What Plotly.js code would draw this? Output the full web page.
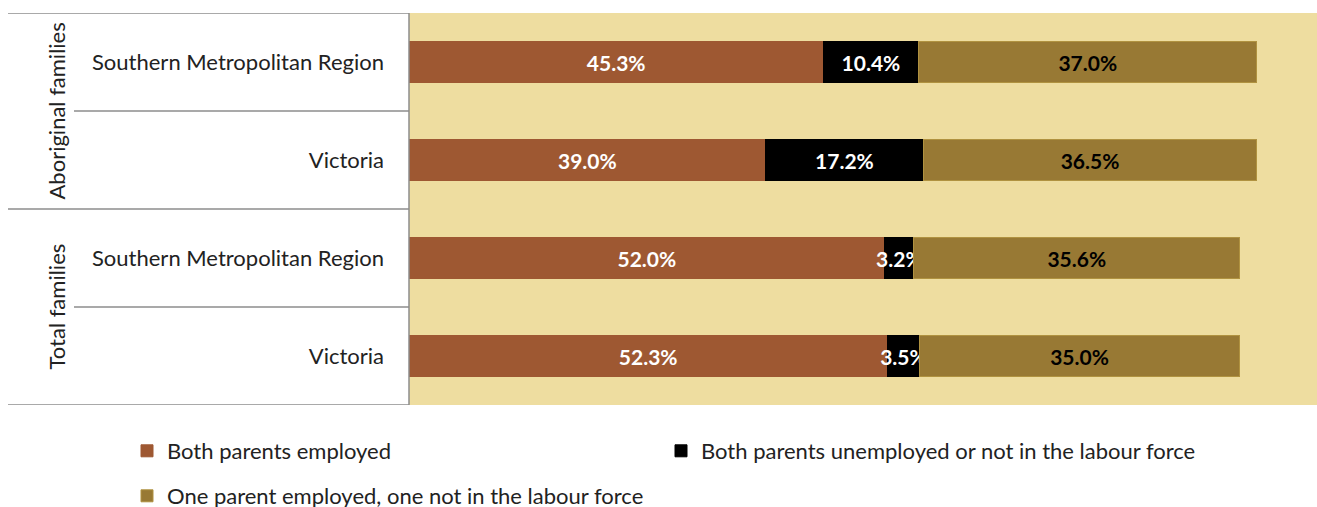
<!DOCTYPE html>
<html><head><meta charset="utf-8">
<script src="https://cdn.plot.ly/plotly-3.0.1.min.js"></script>
<style>body{margin:0;background:#fff}#c{width:1317px;height:507px}</style>
</head><body><div id="c"></div>
<script>
const rowLabels = ["Southern Metropolitan Region", "Victoria", "Southern Metropolitan Region", "Victoria"];
const groupLabels = ["Aboriginal families", "Total families"];
const seriesNames = ["Both parents employed", "Both parents unemployed or not in the labour force", "One parent employed, one not in the labour force"];
const bothEmployed = [45.3, 39.0, 52.0, 52.3];
const bothUnemployed = [10.4, 17.2, 3.2, 3.5];
const oneEmployed = [37.0, 36.5, 35.6, 35.0];

const FONT = "Lato, 'Open Sans', sans-serif";
const rowIdx = rowLabels.map((_, i) => i);
const colors = ["#9E5832", "#000000", "#987934"];
const lineColors = ["#9E5832", "#000000", "#B09240"];
const textColors = ["#ffffff", "#ffffff", "#000000"];
const allSeries = [bothEmployed, bothUnemployed, oneEmployed];

const traces = allSeries.map((vals, k) => ({
  type: "bar", orientation: "h",
  name: seriesNames[k],
  x: vals, y: rowIdx,
  marker: {color: colors[k], line: {color: lineColors[k], width: 1}},
  text: vals.map(v => v.toFixed(1) + "%"),
  textposition: "inside", insidetextanchor: "middle", constraintext: "none", textangle: 0,
  textfont: {family: FONT, size: 21, color: textColors[k], weight: "bold"},
  legend: k === 2 ? "legend2" : "legend",
  hoverinfo: "skip"
}));

const plotL = 409, plotW = 908;
const px = p => (p - plotL) / plotW;
const lineStyle = {color: "#8c8c8c", width: 1.5};
const shapes = [];
[-0.5, 1.5, 3.5].forEach(y => shapes.push({type: "line", xref: "paper", yref: "y", x0: px(8), x1: 0, y0: y, y1: y, line: lineStyle}));
[0.5, 2.5].forEach(y => shapes.push({type: "line", xref: "paper", yref: "y", x0: px(74), x1: 0, y0: y, y1: y, line: lineStyle}));
shapes.push({type: "line", xref: "paper", yref: "y", x0: 0, x1: 0, y0: -0.5, y1: 3.5, line: lineStyle});

const annotations = groupLabels.map((g, i) => ({
  xref: "paper", yref: "y", x: px(40), y: i * 2 + 0.5, text: g, textangle: -90,
  showarrow: false, font: {family: FONT, size: 22, color: "#222"}
}));

const layout = {
  width: 1317, height: 507,
  margin: {l: plotL, r: 0, t: 13, b: 102, pad: 0, autoexpand: false},
  barmode: "stack", bargap: 0.59,
  paper_bgcolor: "#ffffff", plot_bgcolor: "#EEDDA0",
  font: {family: FONT, color: "#222"},
  xaxis: {range: [0, 99.26], showgrid: false, zeroline: false, showticklabels: false, ticks: "", fixedrange: true},
  yaxis: {range: [3.5, -0.5], tickvals: rowIdx, ticktext: rowLabels, showgrid: false, zeroline: false,
          ticks: "", ticklabelstandoff: 24, tickfont: {family: FONT, size: 22, color: "#222"}},
  showlegend: true,
  legend: {orientation: "h", x: px(127), xanchor: "left", y: -0.0638, yanchor: "top", entrywidth: 489,
           font: {family: FONT, size: 22, color: "#222"}, itemwidth: 30, traceorder: "normal", bgcolor: "rgba(0,0,0,0)"},
  legend2: {orientation: "h", x: px(127), xanchor: "left", y: -0.1786, yanchor: "top",
           font: {family: FONT, size: 22, color: "#222"}, itemwidth: 30, bgcolor: "rgba(0,0,0,0)"},
  shapes: shapes, annotations: annotations
};
Plotly.newPlot("c", traces, layout, {displayModeBar: false, staticPlot: true});
</script></body></html>
